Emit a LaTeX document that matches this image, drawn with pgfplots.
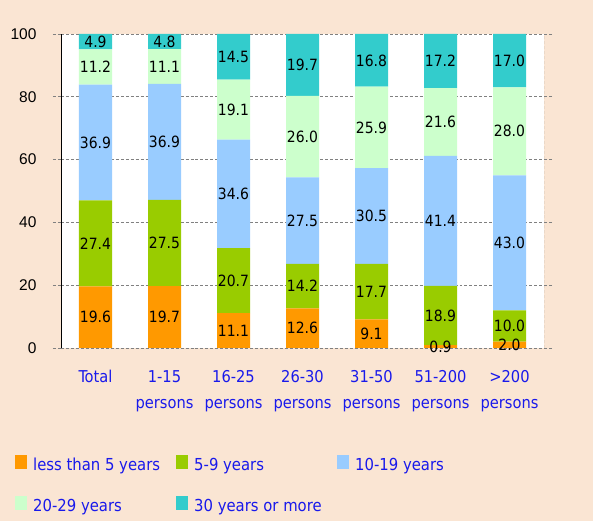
\documentclass[border=0pt]{standalone}
\usepackage{pgfplots}
\usepackage{pgfplotstable}
\pgfplotsset{compat=1.18}
\usepackage{fontspec}
\setmainfont{DejaVu Sans Condensed}
\newfontfamily\tickfont{Liberation Sans}
\definecolor{bg}{HTML}{FAE5D3}
\definecolor{c1}{HTML}{FF9900}
\definecolor{c2}{HTML}{99CC00}
\definecolor{c3}{HTML}{99CCFF}
\definecolor{c4}{HTML}{CCFFCC}
\definecolor{c5}{HTML}{33CCCC}
\definecolor{tblue}{RGB}{25,25,235}
\pgfplotstableread{
x a b c d e
0 19.6 27.4 36.9 11.2 4.9
1 19.7 27.5 36.9 11.1 4.8
2 11.1 20.7 34.6 19.1 14.5
3 12.6 14.2 27.5 26.0 19.7
4 9.1 17.7 30.5 25.9 16.8
5 0.9 18.9 41.4 21.6 17.2
6 2.0 10.0 43.0 28.0 17.0
}\data
\pgfplotsset{sqleg/.style={legend image code/.code={\fill[##1] (0bp,-7bp) rectangle (12bp,7bp);}}}
\newcommand{\lt}[1]{\hspace{6bp}\makebox[143bp][l]{#1}}
\begin{document}
\begin{tikzpicture}
\fill[bg] (0bp,0bp) rectangle (593bp,521bp);
\useasboundingbox (0bp,0bp) rectangle (593bp,521bp);
\begin{axis}[
  at={(61bp,173bp)}, anchor=south west,
  width=483bp, height=314bp, scale only axis,
  ybar stacked, bar width=33bp,
  xmin=-0.5, xmax=6.5, ymin=0, ymax=100,
  enlarge x limits=false, enlarge y limits=false,
  axis background/.style={fill=white},
  axis line style={draw=none},
  xtick={0,...,6},
  xticklabels={Total,{1-15\\persons},{16-25\\persons},{26-30\\persons},{31-50\\persons},{51-200\\persons},{>200\\persons}},
  xticklabel style={align=center, text=tblue, font=\fontsize{16.3bp}{26bp}\selectfont, yshift=-11bp},
  xtick style={draw=none},
  ytick={0,20,...,100},
  /pgf/number format/assume math mode=true,
  yticklabel style={font=\tickfont\fontsize{15.5bp}{18bp}\selectfont, text=black, xshift=-13bp},
  ytick style={gray, densely dashed, line width=0.6pt},
  tick align=outside, major tick length=8bp,
  ymajorgrids, major grid style={gray, densely dashed, line width=0.6pt},
  point meta=explicit,
  nodes near coords={\pgfmathprintnumber[fixed,fixed zerofill,precision=1]{\pgfplotspointmeta}},
  nodes near coords style={font=\fontsize{15.5bp}{18bp}\selectfont, text=black, anchor=center},
  legend columns=3,
  legend cell align=left,
  legend style={at={(-0.0952,-0.331)}, anchor=north west, draw=none, fill=none, inner sep=0pt,
    nodes={inner sep=0pt, text=tblue, font=\fontsize{16.5bp}{18bp}\selectfont, text height=18bp, text depth=1bp},
    /tikz/every even column/.append style={column sep=0pt}, row sep=22bp},
]
\addplot[fill=c1, draw=none, sqleg] table[x=x, y=a, meta=a] {\data};
\addlegendentry{\lt{less than 5 years}}
\addplot[fill=c2, draw=none, sqleg] table[x=x, y=b, meta=b] {\data};
\addlegendentry{\lt{5-9 years}}
\addplot[fill=c3, draw=none, sqleg] table[x=x, y=c, meta=c] {\data};
\addlegendentry{\lt{10-19 years}}
\addplot[fill=c4, draw=none, sqleg] table[x=x, y=d, meta=d] {\data};
\addlegendentry{\lt{20-29 years}}
\addplot[fill=c5, draw=none, sqleg] table[x=x, y=e, meta=e] {\data};
\addlegendentry{\lt{30 years or more}}
\draw[black, line width=1.2pt] (rel axis cs:0,0) -- (rel axis cs:0,1);
\draw[gray, densely dashed, line width=0.6pt] (rel axis cs:1,0) -- (rel axis cs:1,1);
\node[anchor=base west, text=tblue, font=\fontsize{16bp}{18bp}\selectfont] at ([shift={(-1bp,13bp)}]rel axis cs:0,1) {Percentage};
\node[anchor=base west, text=tblue, font=\fontsize{15bp}{18bp}\selectfont] at ([shift={(19bp,1bp)}]rel axis cs:1,0) {size};
\end{axis}
\end{tikzpicture}
\end{document}
